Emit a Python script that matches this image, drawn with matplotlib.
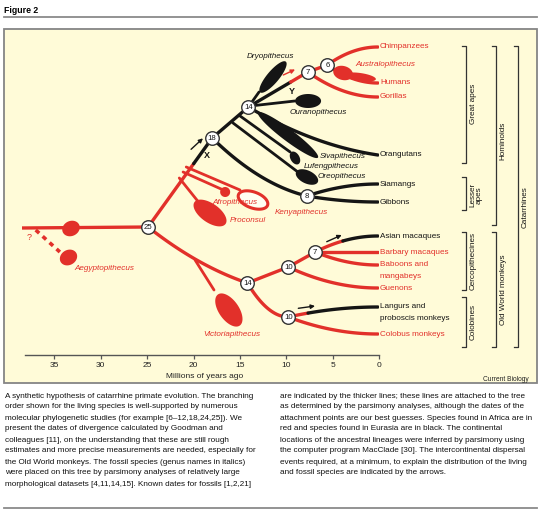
import numpy as np
import matplotlib.pyplot as plt
from matplotlib.patches import Rectangle, FancyArrowPatch
from matplotlib.lines import Line2D

plt.rcParams['font.family'] = ['Liberation Sans', 'DejaVu Sans']

RED = '#e2302a'
DARK = '#151515'
PX = 9.286          # pixels per million years on the time axis
AGE0_PX = 379.3     # pixel column of 0 Mya

# time axis
ticks = [35, 30, 25, 20, 15, 10, 5, 0]

# internal nodes (age in Mya, row in pixels from top)
node_name = ['root', 'n25', 'n18', 'n14a', 'n7a', 'n6', 'n8', 'n14b', 'n10a', 'n7b', 'n10b']
node_label = ['', '25', '18', '14', '7', '6', '8', '14', '10', '7', '10']
node_age = [38.6, 24.9, 18.0, 14.1, 7.7, 5.6, 7.8, 14.2, 9.8, 6.9, 9.8]
node_row = [228, 227, 138, 107, 72, 65, 196, 283, 267, 252, 317]

# internal edges: from, to, bend, colour before / after switch age
edge_from = ['root', 'n25', 'n18', 'n14a', 'n7a', 'n18', 'n25', 'n14b', 'n10a', 'n14b']
edge_to = ['n25', 'n18', 'n14a', 'n7a', 'n6', 'n8', 'n14b', 'n10a', 'n7b', 'n10b']
edge_bend = [0.5, 0.5, 0.5, 0.5, 0.5, 0.8, 0.7, 0.5, 0.5, 1.0]
edge_old = [RED, RED, DARK, DARK, RED, DARK, RED, RED, RED, RED]
edge_new = [RED, DARK, DARK, RED, RED, DARK, RED, RED, RED, RED]
edge_switch = [0, 20.1, 0, 9.6, 0, 0, 0, 0, 0, 0]

# living species
leaf_name = ['Chimpanzees', 'Humans', 'Gorillas', 'Orangutans', 'Siamangs', 'Gibbons',
             'Asian macaques', 'Barbary macaques', 'Baboons and\nmangabeys', 'Guenons',
             'Langurs and\nproboscis monkeys', 'Colobus monkeys']
leaf_parent = ['n6', 'n6', 'n7a', 'n14a', 'n8', 'n8', 'n7b', 'n7b', 'n7b', 'n10a', 'n10b', 'n10b']
leaf_row = [47, 83, 97, 155, 184, 202, 236, 252, 265, 288, 307, 334]
leaf_bend = [1.0, 1.0, 1.0, 0.8, 1.0, 1.0, 1.0, 1.0, 1.0, 1.0, 1.0, 1.0]
leaf_old = [RED, RED, RED, DARK, DARK, DARK, RED, RED, RED, RED, RED, RED]
leaf_new = [RED, RED, RED, DARK, DARK, DARK, DARK, RED, RED, RED, DARK, RED]
leaf_switch = [0, 0, 0, 0, 0, 0, 4.0, 0, 0, 0, 7.8, 0]
leaf_age = 0.15

# fossils: stem (start/end), blob (centre, length px, width px, angle deg), label
fossil_name = ['Aegyptopithecus', 'Proconsul', 'Afropithecus', 'Kenyapithecus', 'Victoriapithecus',
               'Dryopithecus', 'Ouranopithecus', 'Sivapithecus', 'Lufengpithecus', 'Oreopithecus',
               'Australopithecus']
fossil_color = [RED, RED, RED, RED, RED, DARK, DARK, DARK, DARK, DARK, RED]
stem_age0 = [37.0, 21.54, 21.13, 20.79, 19.84, 14.1, 13.9, 14.1, 14.99, 15.75, 3.9]
stem_row0 = [230, 178, 172, 167, 260, 107, 106, 107, 116, 123, 73]
stem_age1 = [34.4, 19.3, 16.8, 15.0, 17.8, 12.95, 9.1, 14.1, 9.6, 8.77, 3.9]
stem_row1 = [252, 204, 190, 190, 290, 92, 101, 107, 152, 172, 73]
blob_age = [33.47, 18.23, 16.6, 13.6, 16.2, 11.45, 7.67, 9.83, 9.08, 7.79, 3.9]
blob_row = [257.5, 213, 192, 200, 310, 77, 101, 135, 158, 177, 73]
blob_len = [18, 38, 10, 31, 38, 40, 26, 75, 14, 24, 20]
blob_wid = [15, 19, 10, 16, 20, 12, 14, 12, 9, 13, 14]
blob_ang = [-30, 35, 0, 20, 55, -50, 0, 37, 60, 25, 15]
label_age = [32.8, 16.06, 15.5, 11.24, 15.86, 11.77, 9.62, 6.39, 8.1, 6.6, 2.62]
label_row = [269, 221, 202, 213, 335, 57, 113, 157, 166, 177, 65]
label_ha = ['left', 'left', 'center', 'left', 'center', 'center', 'left', 'left', 'left', 'left', 'left']

# dispersal arrows (age, row) start -> end
arrow_age0 = [20.27, 10.34, 5.66, 8.72]
arrow_row0 = [149.3, 75, 241.7, 308.3]
arrow_age1 = [18.99, 9.07, 4.05, 6.92]
arrow_row1 = [138.3, 69.5, 235, 306]
arrow_color = [DARK, RED, DARK, DARK]

# clade brackets on the right
group_name = ['Great apes', 'Lesser\napes', 'Cercopithecines', 'Colobines',
              'Hominoids', 'Old World monkeys', 'Catarrhines']
group_top = [45.5, 177, 232, 297, 45.5, 232, 45.5]
group_bottom = [163, 210, 290, 347, 225, 347, 347]
group_level = [0, 0, 0, 0, 1, 1, 2]
group_label_row = [104, 195, 261, 322, 141, 290, 207]
group_label_dx = [7.5, 10.5, 7.5, 7.5, 7.5, 7.5, 7.5]
level_px = [465.5, 495.5, 518.0]

caption_left = [
    "A synthetic hypothesis of catarrhine primate evolution. The branching",
    "order shown for the living species is well-supported by numerous",
    "molecular phylogenetic studies (for example [6\u201312,18,24,25]). We",
    "present the dates of divergence calculated by Goodman and",
    "colleagues [11], on the understanding that these are still rough",
    "estimates and more precise measurements are needed, especially for",
    "the Old World monkeys. The fossil species (genus names in italics)",
    "were placed on this tree by parsimony analyses of relatively large",
    "morphological datasets [4,11,14,15]. Known dates for fossils [1,2,21]",
]
caption_right = [
    "are indicated by the thicker lines; these lines are attached to the tree",
    "as determined by the parsimony analyses, although the dates of the",
    "attachment points are our best guesses. Species found in Africa are in",
    "red and species found in Eurasia are in black. The continental",
    "locations of the ancestral lineages were inferred by parsimony using",
    "the computer program MacClade [30]. The intercontinental dispersal",
    "events required, at a minimum, to explain the distribution of the living",
    "and fossil species are indicated by the arrows.",
]


def px2age(x):
    return (AGE0_PX - x) / PX


def curve(p0, p1, bend, n=60):
    t = np.linspace(0, 1, n)[:, None]
    p0 = np.array(p0, float)
    p1 = np.array(p1, float)
    c = np.array([p0[0] + 0.5 * (p1[0] - p0[0]), p0[1] + bend * (p1[1] - p0[1])])
    return (1 - t) ** 2 * p0 + 2 * t * (1 - t) * c + t ** 2 * p1


def draw_branch(ax, p0, p1, bend, c_old, c_new, switch, lw=2.4):
    pts = curve(p0, p1, bend)
    older = pts[:, 0] >= switch
    i = int(np.argmin(older)) if not older.all() else len(pts) - 1
    if i > 0:
        ax.plot(pts[:i + 1, 0], pts[:i + 1, 1], color=c_old, lw=lw, solid_capstyle='round', zorder=2)
    ax.plot(pts[i:, 0], pts[i:, 1], color=c_new, lw=lw, solid_capstyle='round', zorder=2)


def blob(ax, age, row, length, width, angle, color, ring=False):
    th = np.linspace(0, 2 * np.pi, 80)
    a = np.radians(angle)
    u = length / 2 * np.cos(th)
    v = width / 2 * np.sin(th)
    dx = u * np.cos(a) - v * np.sin(a)
    dy = u * np.sin(a) + v * np.cos(a)
    if ring:
        ax.fill(age - dx / PX, row + dy, facecolor='#fffef2', edgecolor=color, lw=2.2, zorder=3)
    else:
        ax.fill(age - dx / PX, row + dy, color=color, lw=0, zorder=3)


W, H = 548, 514
fig = plt.figure(figsize=(W / 100, H / 100), dpi=100)

# header and panel
fig.text(4 / W, 1 - 10.5 / H, 'Figure 2', fontsize=6.3, fontweight='bold', va='center')
fig.add_artist(Line2D([4 / W, 537 / W], [1 - 17 / H, 1 - 17 / H], color='#8a8a8a', lw=1.3))
fig.add_artist(Rectangle((4 / W, 1 - 383 / H), 533 / W, 354 / H, facecolor='#fffbd8',
                         edgecolor='#858585', lw=1.3, zorder=0))
fig.add_artist(Line2D([4 / W, 537 / W], [1 - 508 / H, 1 - 508 / H], color='#8a8a8a', lw=1.3))

left = AGE0_PX - 38.5 * PX
ax = fig.add_axes([left / W, 1 - 355 / H, (AGE0_PX - left) / W, (355 - 28) / H])
ax.set_xlim(38.5, 0)
ax.set_ylim(355, 28)
ax.patch.set_visible(False)
for s in ['top', 'right', 'left']:
    ax.spines[s].set_visible(False)
ax.spines['bottom'].set_color('#555555')
ax.spines['bottom'].set_linewidth(1.0)
ax.spines['bottom'].set_bounds(38.2, 0)
ax.set_yticks([])
ax.set_xticks(ticks)
ax.tick_params(axis='x', length=3, width=0.9, color='#555555', labelsize=6, pad=2, labelcolor='#222222')
ax.text(px2age(205), 376.5, 'Millions of years ago', fontsize=6, ha='center', va='center', color='#222222')

pos = {n: (a, r) for n, a, r in zip(node_name, node_age, node_row)}

# internal branches
for f, t, b, co, cn, sw in zip(edge_from, edge_to, edge_bend, edge_old, edge_new, edge_switch):
    draw_branch(ax, pos[f], pos[t], b, co, cn, sw)

# branches to the living species and their names
for name, par, row, b, co, cn, sw in zip(leaf_name, leaf_parent, leaf_row, leaf_bend,
                                         leaf_old, leaf_new, leaf_switch):
    draw_branch(ax, pos[par], (leaf_age, row), b, co, cn, sw)
    for k, line in enumerate(name.split('\n')):
        ax.text(px2age(380), row + 11.5 * k, line, fontsize=5.9, color=cn, ha='left', va='center')

# fossils
for i, name in enumerate(fossil_name):
    c = fossil_color[i]
    if name == 'Aegyptopithecus':
        ax.plot([stem_age0[i], stem_age1[i]], [stem_row0[i], stem_row1[i]], color=c, lw=2.6,
                linestyle=(0, (1.3, 1.3)), zorder=2)
        blob(ax, px2age(71), 228.5, 18, 15, -25, c)
    elif stem_age0[i] != stem_age1[i]:
        ax.plot([stem_age0[i], stem_age1[i]], [stem_row0[i], stem_row1[i]], color=c, lw=2.0,
                solid_capstyle='round', zorder=2)
    blob(ax, blob_age[i], blob_row[i], blob_len[i], blob_wid[i], blob_ang[i], c, ring=(name == 'Kenyapithecus'))
    ax.text(label_age[i], label_row[i], name, fontsize=5.9, style='italic', color=c,
            ha=label_ha[i], va='center', zorder=4)
# Australopithecus tail towards the humans
blob(ax, px2age(360), 77, 32, 8, 8, RED)

ax.text(px2age(29), 237, '?', fontsize=6.5, color=RED, ha='center', va='center')
ax.text(px2age(207), 155, 'X', fontsize=6.5, fontweight='bold', color=DARK, ha='center', va='center')
ax.text(px2age(292), 92, 'Y', fontsize=6.5, fontweight='bold', color=DARK, ha='center', va='center')

# dispersal arrows
for a0, r0, a1, r1, c in zip(arrow_age0, arrow_row0, arrow_age1, arrow_row1, arrow_color):
    ax.add_patch(FancyArrowPatch((a0, r0), (a1, r1), arrowstyle='-|>', mutation_scale=6,
                                 color=c, lw=1.0, shrinkA=0, shrinkB=0, zorder=4))

# divergence nodes
inner = [i for i, lab in enumerate(node_label) if lab]
ax.scatter([node_age[i] for i in inner], [node_row[i] for i in inner], s=95, marker='o',
           facecolor='white', edgecolor='#333333', linewidth=1.0, zorder=5)
for i in inner:
    ax.text(node_age[i], node_row[i] + 0.3, node_label[i], fontsize=5.6, ha='center', va='center',
            color=DARK, zorder=6)

# clade brackets
for name, top, bot, lev, lrow, ldx in zip(group_name, group_top, group_bottom, group_level,
                                          group_label_row, group_label_dx):
    xb = px2age(level_px[lev])
    xt = px2age(level_px[lev] - 4)
    ax.plot([xt, xb, xb, xt], [top, top, bot, bot], color='#333333', lw=0.9, clip_on=False)
    ax.text(px2age(level_px[lev] + ldx), lrow, name, fontsize=5.9, rotation=90, ha='center',
            va='center', color=DARK, linespacing=1.0)

fig.text(529 / W, 1 - 379.5 / H, 'Current Biology', fontsize=4.8, ha='right', va='center', color='#222222')

# caption
for k, line in enumerate(caption_left):
    fig.text(5 / W, 1 - (396 + 11 * k) / H, line, fontsize=5.85, va='center', color='#111111')
for k, line in enumerate(caption_right):
    fig.text(280 / W, 1 - (396 + 11 * k) / H, line, fontsize=5.85, va='center', color='#111111')

fig.savefig('out.png', dpi=100)
